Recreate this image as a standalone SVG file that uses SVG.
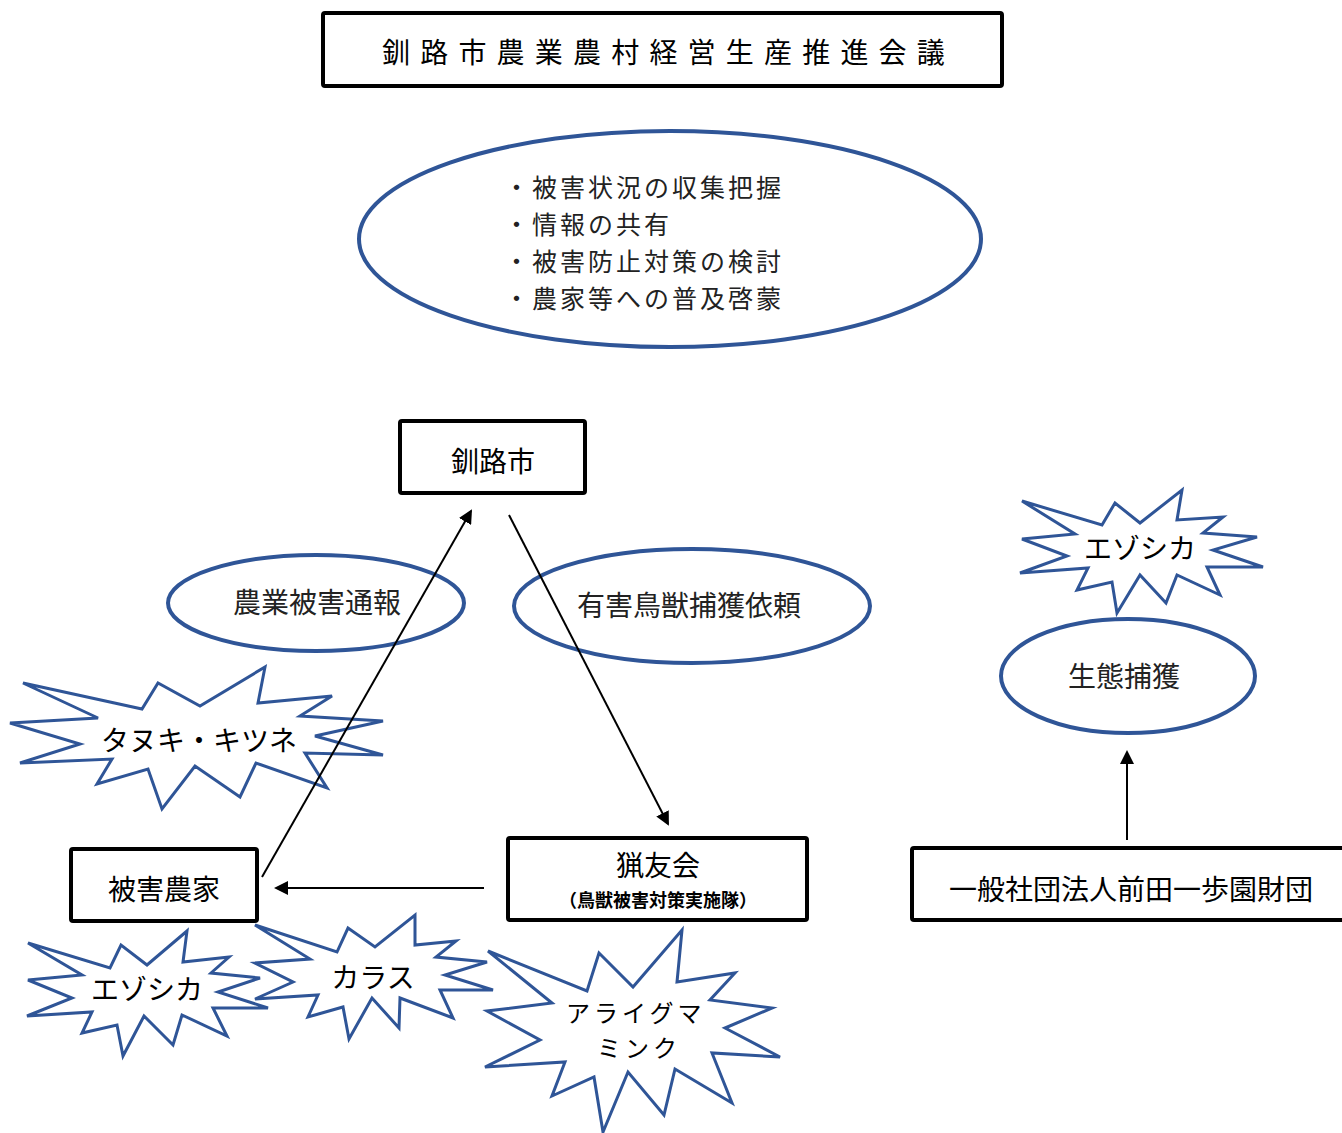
<svg xmlns="http://www.w3.org/2000/svg" width="1342" height="1133" viewBox="0 0 1342 1133">
<style>
.box{fill:#fff;stroke:#000;stroke-width:4}
.ell{fill:#fff;stroke:#2F5597;stroke-width:4}
.star{fill:#fff;stroke:#2F5597;stroke-width:3;stroke-linejoin:miter}
.t{font-family:"Noto Sans CJK JP","Liberation Sans",sans-serif;font-size:28px;fill:#000}
.m{text-anchor:middle}
.lt{fill:#222}
.li{font-size:25px;letter-spacing:3px}
.am{font-size:24px;letter-spacing:4px}
.con{stroke:#000;stroke-width:2;fill:none}
</style>
<defs>
<marker id="ah" markerWidth="14" markerHeight="14" refX="12" refY="7" orient="auto" markerUnits="userSpaceOnUse">
<path d="M0,0 L14,7 L0,14 Z" fill="#000"/>
</marker>
</defs>
<rect width="1342" height="1133" fill="#fff"/>

<g id="title">
<rect class="box" x="323" y="13" width="679" height="73" rx="2"/>
<text class="t" x="382" y="63" style="letter-spacing:10.2px">釧路市農業農村経営生産推進会議</text>
</g>

<g id="council-tasks">
<ellipse class="ell" cx="670" cy="239" rx="311" ry="108"/>
<text class="t lt li" x="504" y="197">・被害状況の収集把握</text>
<text class="t lt li" x="504" y="234">・情報の共有</text>
<text class="t lt li" x="504" y="271">・被害防止対策の検討</text>
<text class="t lt li" x="504" y="308">・農家等への普及啓蒙</text>
</g>

<g id="kushiro">
<rect class="box" x="400" y="421" width="185" height="72" rx="2"/>
<text class="t m" x="493" y="472">釧路市</text>
</g>

<g id="report">
<ellipse class="ell" cx="316" cy="603" rx="148" ry="48"/>
<text class="t m lt" x="317" y="613">農業被害通報</text>
</g>

<g id="request">
<ellipse class="ell" cx="692" cy="606" rx="178" ry="57"/>
<text class="t m lt" x="689" y="616">有害鳥獣捕獲依頼</text>
</g>

<g id="tanuki">
<polygon class="star" points="23,683 142,709 158,683 200,706 265,667 258,703 332,696 300,716 383,721 315,736 383,755 305,753 327,788 256,763 240,797 195,766 162,809 148,769 97,784 112,759 20,763 80,744 10,723 98,718"/>
<text class="t m" x="199" y="751">タヌキ・キツネ</text>
</g>

<g id="ezo-left">
<polygon class="star" points="28,943 110,968 121,945 147,965 187,931 183,962 229,957 211,973 260,978 218,992 268,1008 213,1008 227,1036 182,1015 173,1045 144,1016 123,1056 117,1025 82,1033 92,1012 27,1016 72,998 28,980 82,975"/>
<text class="t m" x="147" y="1000">エゾシカ</text>
</g>

<g id="karasu">
<polygon class="star" points="255,925 337,952 348,928 375,947 415,915 415,945 456,941 436,957 487,962 445,975 493,990 440,990 453,1018 400,998 399,1028 372,998 349,1039 343,1007 308,1017 318,995 255,999 293,982 255,963 310,959"/>
<text class="t m" x="373" y="988">カラス</text>
</g>

<g id="araiguma">
<polygon class="star" points="488,951 587,991 599,953 633,987 682,930 677,982 735,973 710,1000 772,1008 725,1028 780,1057 712,1053 732,1103 675,1069 664,1115 628,1072 603,1132 594,1077 552,1096 565,1062 485,1067 540,1040 487,1011 552,1003"/>
<text class="t am" x="566" y="1022">アライグマ</text>
<text class="t am" x="597" y="1057">ミンク</text>
</g>

<g id="farmer">
<rect class="box" x="71" y="849" width="186" height="72" rx="2"/>
<text class="t m" x="164" y="900">被害農家</text>
</g>

<g id="hunters">
<rect class="box" x="508" y="838" width="299" height="82" rx="2"/>
<text class="t m" x="658" y="876">猟友会</text>
<text class="t m" x="658" y="907" style="font-size:18px;font-weight:bold">（鳥獣被害対策実施隊）</text>
</g>

<g id="ezo-right">
<polygon class="star" points="1022,501 1102,525 1115,503 1140,523 1182,490 1177,520 1223,517 1203,533 1257,537 1213,550 1263,567 1207,567 1220,595 1177,575 1166,603 1140,575 1117,613 1112,582 1077,590 1088,568 1020,573 1067,556 1022,539 1075,534"/>
<text class="t m" x="1140" y="559">エゾシカ</text>
</g>

<g id="capture">
<ellipse class="ell" cx="1128" cy="676" rx="127" ry="57"/>
<text class="t m lt" x="1124" y="687">生態捕獲</text>
</g>

<g id="foundation">
<rect class="box" x="912" y="848" width="440" height="72" rx="2"/>
<text class="t m" x="1131" y="900">一般社団法人前田一歩園財団</text>
</g>

<g id="connectors">
<line class="con" x1="262" y1="877" x2="471" y2="511" marker-end="url(#ah)"/>
<line class="con" x1="509" y1="515" x2="668" y2="824" marker-end="url(#ah)"/>
<line class="con" x1="484" y1="888" x2="276" y2="888" marker-end="url(#ah)"/>
<line class="con" x1="1127" y1="840" x2="1127" y2="752" marker-end="url(#ah)"/>
</g>
</svg>
